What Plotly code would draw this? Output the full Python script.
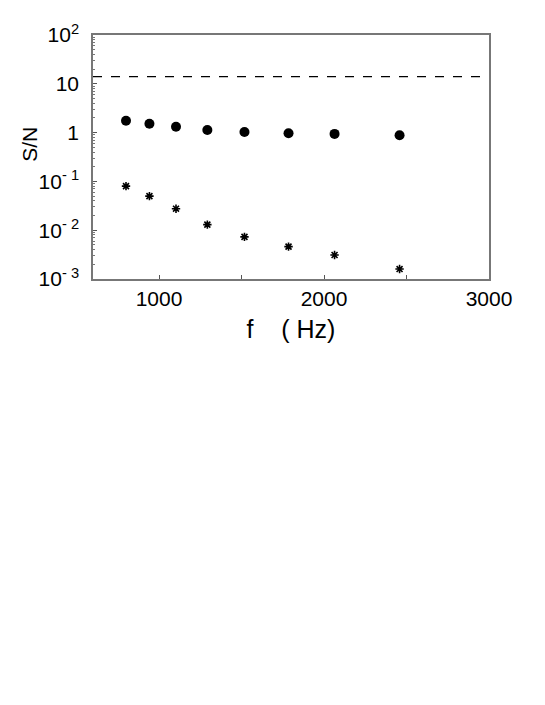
import plotly.graph_objects as go

# frequencies (Hz)
freq = [800, 942, 1103, 1293, 1518, 1785, 2064, 2458]
# S/N, upper series (filled circles)
sn_signal = [1.75, 1.52, 1.32, 1.13, 1.03, 0.97, 0.94, 0.88]
# S/N, lower series (asterisks)
sn_noise = [0.080, 0.050, 0.0276, 0.0130, 0.0073, 0.0046, 0.0031, 0.0016]
# threshold (dashed line)
threshold = 14.0

ytick_vals = [1e-3, 1e-2, 1e-1, 1, 10, 100]
ytick_text = ["10<sup>- 3</sup>", "10<sup>- 2</sup>", "10<sup>- 1</sup>", "1", "10", "10<sup>2</sup>"]
xtick_vals = [1000, 1500, 2000, 2500, 3000]
xtick_text = ["1000", "", "2000", "", "3000"]

minor_y = [m * 10 ** e for e in range(-3, 2) for m in range(2, 10)]

font = "Liberation Sans, Arial, sans-serif"

fig = go.Figure()
fig.add_trace(go.Scatter(x=freq, y=sn_signal, mode="markers",
                         marker=dict(symbol="circle", size=10, color="black")))
fig.add_trace(go.Scatter(x=freq, y=sn_noise, mode="markers",
                         marker=dict(symbol="asterisk-open", size=7, color="black",
                                     line=dict(color="black", width=1.6))))
fig.add_shape(type="line", xref="paper", x0=0, x1=1, yref="y", y0=threshold, y1=threshold,
              line=dict(color="black", width=1.2, dash="dash"))

# y title placed by hand to sit nearer the tick labels
fig.add_annotation(text="S/N", xref="paper", yref="paper", x=0, y=0.55,
                   xshift=-63, textangle=-90, showarrow=False,
                   xanchor="center", yanchor="middle",
                   font=dict(family=font, size=21, color="black"))

# page body has an 8px margin, so the figure is sized to fit inside it
fig.update_layout(
    width=537, height=697,
    margin=dict(l=85, r=56, t=27, b=426),
    paper_bgcolor="white", plot_bgcolor="white",
    showlegend=False,
    font=dict(family=font, size=21, color="black"),
    xaxis=dict(range=[600, 3000], tickvals=xtick_vals, ticktext=xtick_text,
               ticks="inside", ticklen=4, tickcolor="#555",
               showline=True, mirror=True, linecolor="#777", linewidth=1.5,
               showgrid=False, zeroline=False, ticklabelstandoff=0,
               title=dict(text="f    ( Hz)", standoff=12)),
    yaxis=dict(type="log", range=[-3, 2], tickvals=ytick_vals, ticktext=ytick_text,
               ticks="inside", ticklen=4, tickcolor="#555",
               minor=dict(tickvals=minor_y, ticks="inside", ticklen=2,
                          tickcolor="#777", showgrid=False),
               showline=True, mirror=True, linecolor="#777", linewidth=1.5,
               showgrid=False, zeroline=False, ticklabelstandoff=8),
)

fig.write_html("out.html")
